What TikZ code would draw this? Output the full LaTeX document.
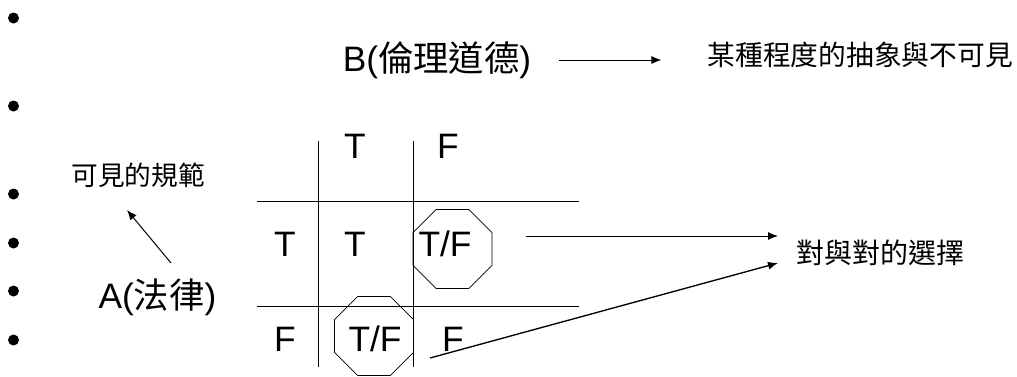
\documentclass[tikz,border=0pt]{standalone}
\usepackage{fontspec}
\setmainfont{Liberation Sans}
\newfontfamily\cjk{Noto Sans CJK TC}
\usetikzlibrary{shapes.geometric,arrows.meta}
\tikzset{
    bigtxt/.style={inner sep=0pt,font=\fontsize{26.5pt}{30pt}\selectfont},
    cjktxt/.style={inner sep=0pt,font=\fontsize{#1}{#1}\selectfont\cjk},
    dot/.style={circle,fill=black,inner sep=0pt,minimum size=8.25pt},
    octagon/.style={draw,line width=0.6pt,regular polygon,regular polygon sides=8,minimum size=64.1pt,inner sep=0pt},
    arr/.style={line width=0.75pt,-{Latex[length=7.5pt,width=6pt]}},
    gridline/.style={line width=0.75pt}
}
\begin{document}
\begin{tikzpicture}[x=0.75pt,y=-0.75pt]
    \useasboundingbox (0,0) rectangle (1017,376);

    \foreach \y in {18,106,194,243,291,340}
        \node[dot] at (13.5,\y) {};

    \node[bigtxt] (b) at (437,60) {B({\cjk 倫理道德})};
    \node[cjktxt=20.8pt,anchor=east] (bt) at (1013,55) {某種程度的抽象與不可見};
    \draw[arr,shorten <=21pt,shorten >=34.5pt] (b.east) -- (bt.west |- b.east);

    \draw[gridline] (318,141) -- (318,367);
    \draw[gridline] (413,141) -- (413,367);
    \draw[gridline] (257,201) -- (579,201);
    \draw[gridline] (257,306) -- (579,306);

    \node[octagon] (oct1) at (452.5,249) {};
    \node[octagon] (oct2) at (374,336) {};

    \node[bigtxt] (colT) at (355,146) {T};
    \node[bigtxt] (colF) at (448,146) {F};
    \node[bigtxt] (rowT) at (285,244) {T};
    \node[bigtxt] (tt) at (355,244) {T};
    \node[bigtxt] (tf) at (445,244) {T/F};
    \node[bigtxt] (rowF) at (285,339) {F};
    \node[bigtxt] (ft) at (375,339) {T/F};
    \node[bigtxt] (ff) at (453,339) {F};

    \node[bigtxt] (a) at (157.5,297) {A({\cjk 法律})};
    \node[cjktxt=20pt] (vis) at (138,175) {可見的規範};
    \coordinate (a1) at (171,263);
    \coordinate (v1) at (127,210);
    \draw[arr] (a1) -- (v1);

    \node[cjktxt=21pt] (ch) at (880.5,252.5) {對與對的選擇};
    \coordinate (c1) at (526,236);
    \coordinate (c2) at (778,236);
    \coordinate (c3) at (430,358);
    \coordinate (c4) at (778,263);
    \draw[arr] (c1) -- (c2);
    \draw[arr,line width=1pt] (c3) -- (c4);
\end{tikzpicture}
\end{document}
